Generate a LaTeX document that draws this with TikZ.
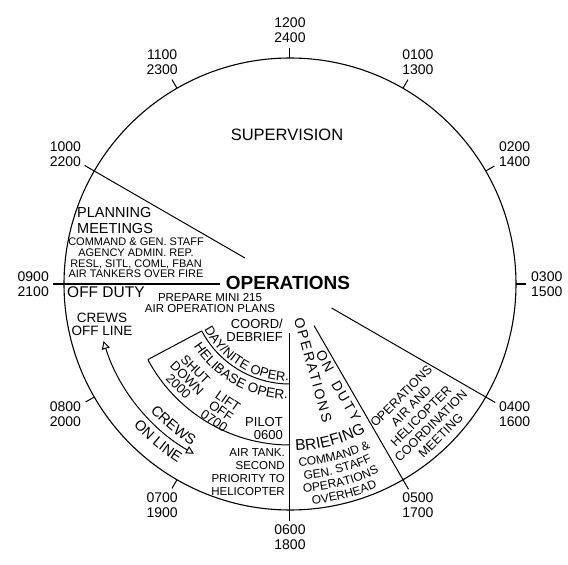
\documentclass[tikz,border=0pt]{standalone}
\usepackage{fontspec}
\setmainfont{Liberation Sans}
\usetikzlibrary{arrows.meta,decorations.text}
\tikzset{
  rim/.style={line width=1.1pt},
  spoke/.style={line width=1pt},
  hour/.style={align=center, font=\fontsize{14}{15}\selectfont, inner sep=1pt},
  bigtxt/.style={font=\fontsize{15.5}{16}\selectfont, inner sep=0pt},
  midtxt/.style={font=\fontsize{13}{13}\selectfont, inner sep=0pt},
  smalltxt/.style={font=\fontsize{11}{10.7}\selectfont, inner sep=0pt, align=center},
  spaced/.style={inner sep=0pt, font=\fontsize{14}{14}\selectfont\addfontfeature{LetterSpace=#1}},
  crew/.style={{Triangle[open,length=8pt,width=8pt]}-{Triangle[open,length=8pt,width=8pt]}, line width=1pt}
}
% text set along an arc round the centre: radius, from, to, size, text
\newcommand{\arcword}[5]{%
  \path[decorate, decoration={text along path, text align=center,
    text={|\fontsize{#4}{#4}\selectfont|#5}}] (#2:#1) arc[start angle=#2, end angle=#3, radius=#1];}

\begin{document}
\begin{tikzpicture}[x=1pt,y=1pt]
  \useasboundingbox (-290,-281) rectangle (278,284);
  \draw[rim] (0,0) circle (226);
  % hour ticks and dividing spokes
  \foreach \ang in {0,30,60,90,120,210,240}
    \draw[spoke] (\ang:226) -- (\ang:236);
  \foreach \ang/\from in {150/52,180/70,270/49,300/48,330/48}
    \draw[spoke] (\ang:\from) -- (\ang:237);
  \foreach \ang/\da/\nt [evaluate=\ang as \opp using {int(\ang+180)}] in
    {90/1200/2400,60/0100/1300,30/0200/1400,0/0300/1500,-30/0400/1600,-60/0500/1700,
     -90/0600/1800,-120/0700/1900,-150/0800/2000,180/0900/2100,150/1000/2200,120/1100/2300}
    \node[hour, anchor=\opp] (h\da) at (\ang:240) {\da\\\nt};

  % helibase sector
  \draw[spoke] (208:100) -- (208:161);
  \draw[spoke] (208:100) arc[start angle=208, end angle=270, radius=100];
  \draw[spoke] (208:161) arc[start angle=208, end angle=270, radius=161];
  \draw[crew] (197:195) arc[start angle=197, end angle=240.5, radius=195];

  \node[font=\fontsize{16.5}{17}\selectfont] (sup) at (-3,149) {SUPERVISION};
  \node[font=\fontsize{19}{19}\selectfont\bfseries] (ops) at (-2,1.5) {OPERATIONS};
  \node[bigtxt, anchor=north west, align=left, font=\fontsize{14.5}{16}\selectfont] (plan) at (-213,77) {PLANNING\\MEETINGS};
  \node[smalltxt, anchor=north] (meet) at (-154,46)
    {COMMAND \& GEN. STAFF\\AGENCY ADMIN. REP.\\RESL, SITL, COML, FBAN\\AIR TANKERS OVER FIRE};
  \node[bigtxt, anchor=north west] (off) at (-223,-2) {OFF DUTY};
  \node[smalltxt, anchor=north, font=\fontsize{11.5}{11}\selectfont] (prep) at (-80,-9)
    {PREPARE MINI 215\\AIR OPERATION PLANS};
  \node[midtxt, anchor=north, align=center, font=\fontsize{13.5}{13}\selectfont] (offl) at (-188,-29) {CREWS\\OFF LINE};
  \node[midtxt, anchor=north east, align=right] (coord) at (-7,-35) {COORD/\\DEBRIEF};
  \node[midtxt, anchor=north east, align=right] (pilot) at (-7,-133) {PILOT\\0600};
  \node[smalltxt, anchor=north east, align=right, font=\fontsize{11.5}{13}\selectfont] (tank) at (-5,-164)
    {AIR TANK.\\SECOND\\PRIORITY TO\\HELICOPTER};
  \node[smalltxt, rotate=-45, font=\fontsize{13}{12}\selectfont] (shut) at (-103,-94) {SHUT\\DOWN\\2000};
  \node[smalltxt, rotate=-35, font=\fontsize{13}{12}\selectfont] (lift) at (-69,-127) {LIFT\\OFF\\0700};
  \node[spaced=14, rotate=-74.5] (vops) at (23,-86) {OPERATIONS};
  \node[spaced=15, rotate=-62] (on) at (35,-77) {ON};
  \node[spaced=15, rotate=-60] (duty) at (56,-117) {DUTY};
  \node[smalltxt, rotate=45, font=\fontsize{12.5}{14}\selectfont] (coordm) at (131,-132)
    {OPERATIONS\\AIR AND\\HELICOPTER\\COORDINATION\\MEETING};

  % curved labels
  \arcword{97}{207}{270}{13}{DAY/NITE OPER.}
  \arcword{115}{212}{270}{13.5}{HELIBASE OPER.}
  \arcword{189}{213}{248}{14.5}{CREWS}
  \arcword{211}{212}{248}{14.5}{ON LINE}
  \arcword{167}{-91}{-60}{15.5}{BRIEFING}
  \arcword{182.5}{-91}{-60}{12}{COMMAND {\&}}
  \arcword{195.5}{-91}{-60}{12}{GEN. STAFF}
  \arcword{208.5}{-91}{-60}{12}{OPERATIONS}
  \arcword{221.5}{-91}{-60}{12}{OVERHEAD}
\end{tikzpicture}
\end{document}
